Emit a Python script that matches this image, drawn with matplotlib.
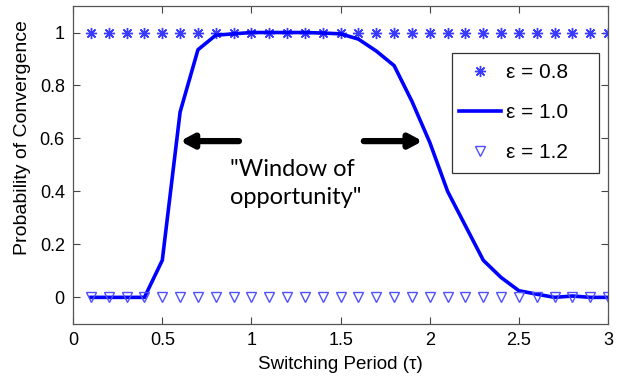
#!/usr/bin/env python3
# coding: utf-8

import matplotlib
matplotlib.use("Agg")
import matplotlib.pyplot as plt
from matplotlib.patches import Rectangle
import numpy as np

# switching period values (tau)
tau = [0.1, 0.2, 0.3, 0.4, 0.5, 0.6, 0.7, 0.8, 0.9, 1.0,
       1.1, 1.2, 1.3, 1.4, 1.5, 1.6, 1.7, 1.8, 1.9, 2.0,
       2.1, 2.2, 2.3, 2.4, 2.5, 2.6, 2.7, 2.8, 2.9, 3.0]

# probability of convergence for each epsilon
p_eps08 = [1.0] * 30
p_eps10 = [0.0, 0.0, 0.0, 0.0, 0.14, 0.70, 0.935, 0.99, 0.995, 1.0,
           1.0, 1.0, 1.0, 0.998, 0.995, 0.975, 0.93, 0.875, 0.74, 0.585,
           0.40, 0.27, 0.14, 0.075, 0.025, 0.012, 0.0, 0.005, 0.0, 0.0]
p_eps12 = [0.0] * 30

labels = [u"\u03b5 = 0.8", u"\u03b5 = 1.0", u"\u03b5 = 1.2"]

plt.rcParams['font.family'] = ['Liberation Sans', 'DejaVu Sans']

fig = plt.figure(figsize=(6.25, 3.77), dpi=100)
ax = fig.add_axes([0.117, 0.141, 0.856, 0.843])

ax.plot(tau, p_eps08, linestyle='none', marker=(8, 2, 0), markersize=8,
        color='#3a3aff', markeredgewidth=1.0, label=labels[0])
ax.plot(tau, p_eps10, color='#0000ff', lw=2.6, label=labels[1])
ax.plot(tau, p_eps12, linestyle='none', marker='v', markersize=7,
        markerfacecolor='none', markeredgecolor='#5050ff', markeredgewidth=1.0,
        label=labels[2])

ax.set_xlim(0, 3)
ax.set_ylim(-0.1, 1.1)
ax.set_xticks([0, 0.5, 1, 1.5, 2, 2.5, 3])
ax.set_xticklabels(['0', '0.5', '1', '1.5', '2', '2.5', '3'])
ax.set_yticks([0, 0.2, 0.4, 0.6, 0.8, 1])
ax.set_yticklabels(['0', '0.2', '0.4', '0.6', '0.8', '1'])
ax.tick_params(direction='in', top=True, right=True, length=5, width=0.8,
               colors='#444444', labelcolor='black', labelsize=13, pad=6)
for sp in ax.spines.values():
    sp.set_color('#555555')
    sp.set_linewidth(0.9)

ax.set_xlabel(u"Switching Period (\u03c4)", fontsize=13.5, labelpad=5)
ax.set_ylabel("Probability of Convergence", fontsize=14)
ax.yaxis.set_label_coords(-0.078, 0.586)

# window of opportunity arrows and text
arrow_kw = dict(arrowstyle='-|>,head_length=0.75,head_width=0.4', lw=4.5,
                color='black', shrinkA=0, shrinkB=0)
ax.annotate('', xy=(0.60, 0.59), xytext=(0.93, 0.59), arrowprops=arrow_kw)
ax.annotate('', xy=(1.96, 0.59), xytext=(1.63, 0.59), arrowprops=arrow_kw)
ax.text(0.88, 0.43, '"Window of\nopportunity"', ha='left', va='center',
        fontsize=17, family=['Lato', 'DejaVu Sans'], linespacing=1.45)

# legend box drawn separately so the entries can sit left of centre
ax.add_patch(Rectangle((0.708, 0.475), 0.275, 0.377, transform=ax.transAxes,
                       facecolor='white', edgecolor='#333333', lw=0.9, zorder=4))
leg = ax.legend(loc='upper left', bbox_to_anchor=(0.708, 0.843), fontsize=15,
                frameon=False, handlelength=2.0, borderpad=0.35,
                labelspacing=1.0, handletextpad=0.25, borderaxespad=0)
leg.set_zorder(5)

plt.savefig('out.png', dpi=100)
